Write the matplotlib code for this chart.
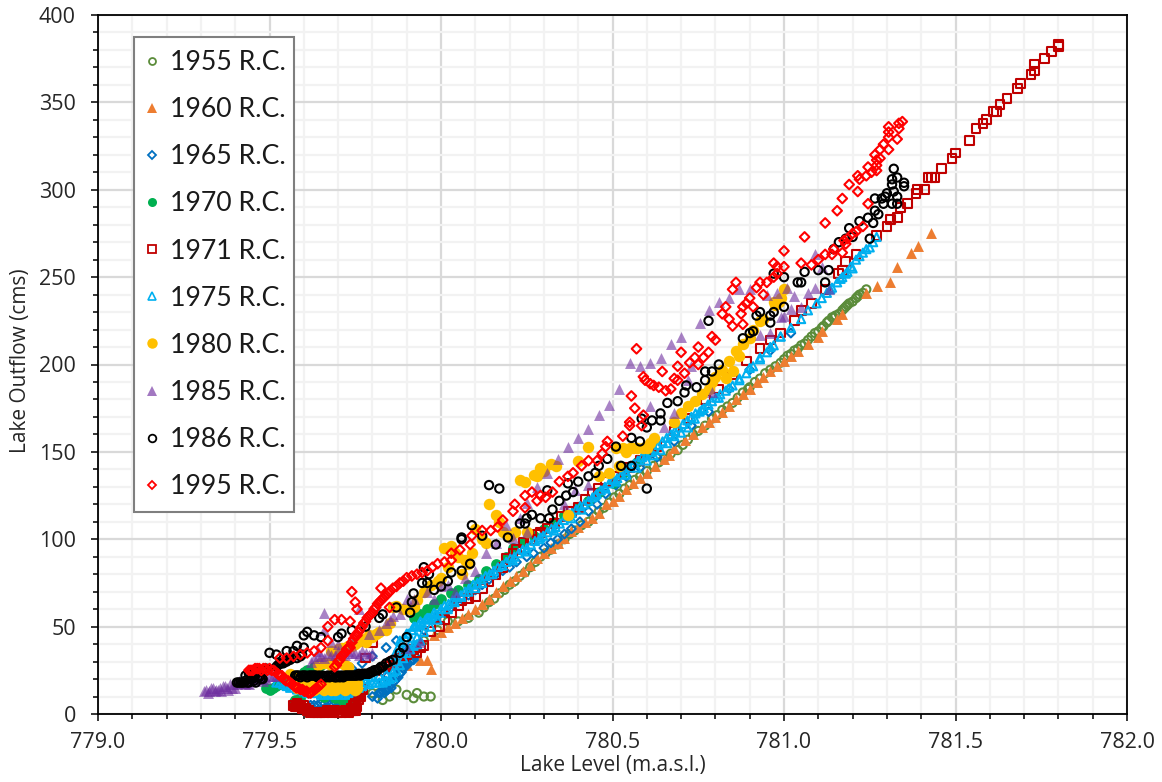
import matplotlib
matplotlib.use("Agg")
import matplotlib.pyplot as plt
from matplotlib.patches import Rectangle
from matplotlib.ticker import MultipleLocator

# values
x_1955 = [779.80, 779.82, 779.83, 779.85, 779.87, 779.90, 779.92, 779.93, 779.95, 779.97,
          779.86, 779.89, 779.92, 779.95, 779.99, 780.02, 780.05, 780.08, 780.11, 780.14, 780.17, 780.20, 780.23,
          780.26, 780.29, 780.32, 780.36, 780.39, 780.43, 780.46, 780.49, 780.52, 780.55, 780.58, 780.62, 780.65,
          780.69, 780.72, 780.75, 780.79, 780.82, 780.85, 780.88, 780.90, 780.93, 780.96, 780.99, 781.01, 781.03,
          781.05, 781.07, 781.09, 781.11, 781.125, 781.14, 781.15, 781.17, 781.18, 781.19, 781.21, 781.22, 781.24,
          780.125, 780.155, 780.185, 780.215, 780.245, 780.275, 780.305, 780.34, 780.375, 780.41, 780.445, 780.475,
          780.505, 780.535, 780.565, 780.60, 780.635, 780.67, 780.705, 780.735, 780.77, 780.805, 780.835, 780.865,
          780.895, 780.915, 780.945, 780.975, 781.00, 781.02, 781.04, 781.06, 781.08, 781.10, 781.115, 781.13,
          781.145, 781.16, 781.175, 781.185, 781.20, 781.215, 781.23]
y_1955 = [12, 12, 8, 10, 14, 11, 9, 12, 10, 10,
          25, 30, 36, 42, 48, 53, 53, 55, 58, 64, 69, 74, 79,
          84, 90, 94, 100, 105, 110, 116, 121, 126, 131, 136, 142, 146,
          151, 157, 162, 169, 174, 178, 184, 187, 192, 197, 201, 205, 208,
          211, 214, 218, 221, 224, 227, 228, 231, 233, 235, 238, 240, 243,
          61, 66, 71, 76, 81, 87, 92, 97, 103, 108, 113, 118,
          124, 129, 134, 139, 144, 149, 154, 160, 165, 171, 176, 181,
          186, 190, 195, 199, 203, 206, 209, 212, 216, 219, 222, 225,
          227, 229, 232, 234, 236, 239, 241]

x_1960 = [779.94, 779.96, 779.97, 779.90, 779.98, 780.02, 780.06, 780.10, 780.14, 780.18, 780.22, 780.26,
          780.30, 780.34, 780.38, 780.42, 780.44, 780.48, 780.52, 780.56, 780.60, 780.65, 780.68, 780.71,
          780.76, 780.80, 780.84, 780.88, 780.92, 780.96, 781.00, 781.04, 781.07, 781.10, 781.11, 781.155,
          781.17, 781.24, 781.27, 781.31, 781.33, 781.37, 781.39, 781.43,
          780.00, 780.04, 780.08, 780.12, 780.16, 780.20, 780.24, 780.28, 780.32, 780.36, 780.40, 780.46, 780.50,
          780.54, 780.58, 780.625, 780.665, 780.735, 780.78, 780.82, 780.86, 780.90, 780.94, 780.98, 781.02]
y_1960 = [31, 31, 26, 28, 45, 50, 55, 60, 66, 73, 79, 85,
          92, 98, 105, 110, 112, 120, 125, 132, 138, 146, 152, 157,
          164, 170, 176, 183, 190, 196, 202, 208, 212, 216, 219, 226,
          229, 241, 245, 247, 256, 264, 268, 275,
          47, 52, 57, 63, 70, 76, 82, 89, 95, 101, 107, 115, 122,
          129, 135, 142, 148, 160, 167, 173, 180, 186, 193, 199, 205]

x_1965 = [779.60, 779.63, 779.65, 779.68, 779.70, 779.73, 779.74, 779.77, 779.80, 779.84, 779.87, 779.80, 779.82,
          779.84, 779.85, 779.87, 779.89, 779.90, 779.92, 779.95, 779.98, 780.01, 780.04, 780.08, 780.12, 780.16,
          780.20, 780.25, 780.30, 780.34, 780.38, 780.43, 780.48, 780.54, 780.58, 780.63, 780.68, 780.73, 780.78,
          780.84, 780.90, 780.96, 781.02,
          779.815, 779.825, 779.83, 779.835, 779.845, 779.85, 779.855, 779.86, 779.865, 779.875, 779.88, 779.885,
          779.895, 779.905, 779.91, 779.915, 779.925, 779.83, 779.845, 779.86, 779.875,
          779.62, 779.64, 779.66, 779.67, 779.69, 779.71, 779.72,
          779.99, 780.03, 780.06, 780.10, 780.14, 780.18, 780.22, 780.27, 780.32, 780.36, 780.405, 780.455, 780.51]
y_1965 = [4, 5, 6, 6, 7, 5, 26, 29, 33, 38, 42, 10, 12,
          14, 18, 22, 26, 28, 31, 48, 54, 58, 64, 68, 74, 80,
          84, 90, 95, 100, 106, 116, 126, 136, 141, 147, 156, 165, 173,
          186, 197, 208, 218,
          9, 12, 13, 12, 14, 16, 15, 18, 19, 21, 23, 24,
          27, 29, 30, 31, 33, 18, 22, 24, 28,
          5, 5, 6, 7, 7, 6, 6,
          56, 61, 66, 71, 77, 82, 87, 92, 98, 103, 110, 120, 131]

x_1970 = [779.49, 779.52, 779.56, 779.57, 779.59, 779.63, 779.60, 779.66, 779.69, 779.71, 779.73,
          779.92, 779.96, 780.00, 780.05, 780.11, 780.16, 780.21, 780.27, 780.33, 780.40, 780.46, 780.53, 780.60,
          779.50, 779.51, 779.53, 779.54, 779.575, 779.58, 779.70, 779.72, 779.74, 779.58, 779.61, 779.64, 779.65,
          779.94, 779.98, 780.03, 780.08, 780.13, 780.19, 780.24, 780.30, 780.36, 780.43, 780.50, 780.57]
y_1970 = [15, 16, 20, 7, 9, 27, 24, 10, 9, 8, 9,
          55, 60, 66, 71, 77, 86, 95, 102, 110, 118, 127, 138, 150,
          14, 15, 17, 18, 8, 6, 10, 11, 10, 22, 25, 27, 28,
          57, 63, 69, 74, 82, 90, 98, 106, 114, 122, 132, 144]

x_1971 = [779.57, 779.58, 779.59, 779.60, 779.61, 779.63, 779.65, 779.68, 779.70, 779.73, 779.745, 779.755, 779.75,
          779.755, 779.76, 779.77, 779.78, 779.80, 779.84, 779.87, 779.90, 779.93, 779.95, 779.97, 779.995, 780.03,
          780.06, 780.10, 780.14, 780.19, 780.24, 780.29, 780.33, 780.40, 780.44, 780.51, 780.58, 780.63, 780.68,
          780.72, 780.77, 780.99, 781.03, 781.05, 781.08, 781.12, 781.16, 781.17, 781.18, 781.21, 781.27, 781.30,
          781.31, 781.33, 781.34, 781.36, 781.385, 781.39, 781.41, 781.42, 781.43, 781.44, 781.46, 781.49, 781.50,
          781.54, 781.56, 781.58, 781.59, 781.61, 781.62, 781.63, 781.65, 781.68, 781.69, 781.72, 781.73, 781.73,
          781.76, 781.78, 781.80, 781.80,
          779.575, 779.585, 779.595, 779.605, 779.615, 779.62, 779.64, 779.66, 779.67, 779.69, 779.71, 779.72, 779.74,
          779.75, 779.76, 779.765, 779.755, 779.745, 779.60, 779.59, 779.58, 779.74, 779.75,
          779.82, 779.85, 779.86, 779.88, 779.89, 779.91, 779.92, 779.94,
          780.01, 780.05, 780.08, 780.12, 780.16, 780.18, 780.21, 780.22, 780.26, 780.28, 780.31, 780.35, 780.37,
          780.38, 780.42, 780.46, 780.48, 780.53, 780.55, 780.60, 780.81, 780.85, 780.89, 780.93, 780.96]
y_1971 = [5, 4, 4, 3, 2, 1, 1, 1, 1, 1, 2, 4, 8,
          10, 12, 14, 32, 41, 27, 30, 34, 35, 39, 47, 50, 58,
          65, 67, 76, 89, 98, 104, 109, 118, 126, 136, 145, 153, 162,
          169, 180, 218, 225, 231, 235, 243, 252, 254, 259, 263, 274, 279,
          283, 284, 290, 292, 298, 300, 300, 307, 307, 307, 312, 318, 321,
          328, 335, 338, 340, 345, 345, 349, 352, 358, 361, 366, 368, 372,
          375, 379, 382, 383,
          4, 4, 3, 3, 2, 1, 1, 1, 2, 2, 1, 2, 2,
          6, 8, 10, 11, 5, 5, 5, 6, 3, 2,
          25, 28, 30, 32, 33, 36, 37, 38,
          54, 62, 66, 72, 80, 84, 92, 94, 100, 103, 106, 113, 116,
          116, 123, 129, 133, 139, 141, 149, 186, 194, 202, 209, 214]

x_1975 = [779.52, 779.55, 779.58, 779.62, 779.65, 779.68, 779.71, 779.74, 779.76, 779.78, 779.80, 779.82, 779.84,
          779.86, 779.87, 779.88, 779.89, 779.90, 779.91, 779.92, 779.93, 779.94, 779.95, 779.96, 779.97, 779.98,
          779.99, 780.00, 780.02, 780.04, 780.06, 780.08, 780.10, 780.12, 780.15, 780.18, 780.21, 780.25, 780.29,
          780.33, 780.38, 780.41, 780.45, 780.48, 780.51, 780.54, 780.57, 780.60, 780.62, 780.64, 780.66, 780.68,
          780.70, 780.72, 780.74, 780.76, 780.78, 780.81, 780.84, 780.87, 780.90, 780.93, 780.96, 780.99, 781.02,
          781.05, 781.07, 781.095, 781.125, 781.14, 781.155, 781.17, 781.18, 781.195, 781.21, 781.23, 781.25, 781.27]
y_1975 = [18, 16, 14, 12, 11, 11, 11, 13, 15, 18, 18, 18, 19,
          21, 30, 42, 36, 46, 40, 50, 44, 53, 47, 55, 50, 58,
          54, 60, 60, 64, 67, 70, 72, 75, 80, 85, 88, 93, 101,
          105, 112, 117, 125, 129, 133, 137, 141, 145, 148, 151, 155, 159,
          161, 164, 169, 174, 177, 181, 187, 192, 198, 204, 210, 216, 221,
          226, 231, 235, 241, 244, 247, 250, 252, 256, 260, 264, 267, 273]
x_1975_dense = [780.01, 780.022, 780.034, 780.046, 780.058, 780.07, 780.082, 780.094, 780.106, 780.118, 780.13,
                780.142, 780.154, 780.166, 780.178, 780.19, 780.202, 780.214, 780.226, 780.238, 780.25, 780.262,
                780.274, 780.286, 780.298, 780.31, 780.322, 780.334, 780.346, 780.358, 780.37, 780.382, 780.394,
                780.406, 780.418, 780.43, 780.442, 780.454, 780.466, 780.478, 780.49, 780.502, 780.514, 780.526,
                780.538, 780.55, 780.562, 780.574, 780.586, 780.598, 780.61, 780.622, 780.634, 780.646, 780.658,
                780.67, 780.682, 780.694, 780.706, 780.718, 780.73, 780.742, 780.754, 780.766, 780.778, 780.79,
                780.802, 780.814, 780.83, 780.85, 780.87, 780.89, 780.91, 780.93, 780.95, 780.97, 780.99,
                781.11, 781.135, 781.165, 781.185, 781.20, 781.22, 781.24, 781.26,
                779.53, 779.54, 779.56, 779.60, 779.61, 779.63, 779.64, 779.66, 779.67, 779.69, 779.70, 779.72,
                779.73, 779.75, 779.77, 779.79, 779.81, 779.83, 779.85, 779.78, 779.80, 779.82, 779.84, 779.86,
                779.865, 779.875, 779.885, 779.895, 779.905, 779.915, 779.925, 779.935, 779.945, 779.955, 779.965,
                779.975, 779.985, 779.995, 779.87, 779.88, 779.89, 779.90, 779.91, 779.92, 779.93, 779.94]
y_1975_dense = [62, 63, 65, 67, 68, 70, 72, 74, 75, 77, 79,
                80, 82, 84, 85, 87, 89, 90, 92, 94, 95, 97,
                99, 100, 102, 104, 106, 107, 109, 111, 113, 115, 117,
                119, 120, 122, 124, 126, 128, 130, 132, 134, 135, 137,
                139, 141, 143, 145, 147, 148, 150, 152, 154, 156, 158,
                160, 162, 164, 166, 168, 170, 172, 173, 175, 177, 179,
                181, 183, 185, 188, 191, 195, 199, 203, 207, 211, 216,
                238, 243, 249, 253, 255, 262, 266, 270,
                18, 17, 15, 13, 12, 13, 12, 11, 12, 11, 12, 11,
                12, 14, 16, 17, 18, 18, 20, 20, 21, 22, 23, 24,
                34, 38, 41, 44, 46, 48, 50, 51, 52, 54, 55,
                56, 57, 58, 25, 28, 32, 35, 37, 39, 40, 42]

x_1980 = [779.56, 779.58, 779.60, 779.63, 779.66, 779.68, 779.71, 779.73, 779.755, 779.62, 779.66, 779.70, 779.74,
          779.71, 779.74, 779.755, 779.80, 779.84, 779.86, 779.89, 779.92, 779.95, 780.00, 780.01, 780.03, 780.07,
          780.10, 780.14, 780.16, 780.18, 780.215, 780.23, 780.245, 780.27, 780.29, 780.32, 780.37, 780.40, 780.43,
          780.46, 780.49, 780.51, 780.52, 780.53, 780.56, 780.59, 780.62, 780.68, 780.74, 780.78, 780.80, 780.93,
          780.94, 780.97, 780.99, 781.00,
          779.565, 779.575, 779.59, 779.61, 779.625, 779.64, 779.65, 779.67, 779.69, 779.70, 779.72, 779.74, 779.75,
          779.64, 779.65, 779.67, 779.69, 779.72, 779.73, 779.76, 779.77, 779.79, 779.82, 779.85, 779.87, 779.91,
          779.93, 779.97, 779.99, 780.04, 780.05, 780.08, 780.12, 780.20, 780.25, 780.28, 780.30, 780.335, 780.54,
          780.55, 780.57, 780.60, 780.61, 780.975, 780.985, 780.70, 780.72, 780.83, 780.85, 780.87, 780.90,
          779.58, 779.60, 779.62, 779.64, 779.66, 779.68, 779.70, 779.72, 779.74, 779.755,
          779.60, 779.63, 779.66, 779.69, 779.72, 779.75, 780.76, 780.79, 780.82, 780.84, 780.86, 780.88, 780.91,
          779.68, 779.70, 779.73, 779.75, 779.77, 779.78, 779.81, 780.02, 780.06, 780.09, 780.13, 780.17]
y_1980 = [23, 22, 20, 20, 29, 28, 29, 27, 18, 17, 17, 17, 17,
          38, 39, 41, 44, 48, 61, 60, 61, 70, 78, 95, 96, 88,
          106, 120, 114, 104, 104, 134, 133, 137, 141, 143, 114, 145, 153,
          136, 138, 152, 142, 152, 152, 152, 158, 167, 179, 186, 193, 225,
          226, 236, 238, 243,
          20, 18, 17, 17, 17, 17, 17, 17, 17, 17, 17, 18, 18,
          28, 29, 29, 29, 28, 27, 42, 43, 45, 47, 52, 62, 60,
          65, 74, 76, 92, 90, 86, 100, 102, 104, 136, 139, 142, 150,
          152, 152, 152, 155, 234, 236, 172, 176, 192, 196, 205, 215,
          15, 15, 14, 15, 14, 14, 15, 14, 15, 15,
          16, 14, 16, 14, 16, 14, 183, 190, 197, 202, 208, 212, 220,
          36, 37, 39, 40, 42, 41, 46, 84, 80, 92, 98, 110]

x_1985 = [779.31, 779.33, 779.35, 779.37, 779.39, 779.41, 779.43, 779.45, 779.47, 779.49, 779.52, 779.32, 779.34, 779.38,
          779.63, 779.65, 779.68, 779.71, 779.74, 779.76, 779.78, 779.80, 779.66, 779.66, 779.68, 779.76, 779.79,
          779.85, 779.88, 779.90, 779.90, 779.94, 780.00, 780.07, 780.19, 780.21, 780.25, 780.25, 780.28, 780.31,
          780.34, 780.36, 780.37, 780.39, 780.40, 780.43, 780.43, 780.46, 780.49, 780.52, 780.55, 780.58, 780.61,
          780.61, 780.64, 780.65, 780.67, 780.68, 780.70, 780.72, 780.73, 780.755, 780.78, 780.79, 780.81, 780.84,
          780.87, 780.90, 780.93, 780.95, 780.96, 780.98, 780.99, 781.00, 781.01, 781.02, 781.03, 781.05, 781.07,
          781.09, 781.09, 781.11, 781.13,
          779.315, 779.325, 779.335, 779.345, 779.355, 779.365, 779.375, 779.385, 779.395, 779.405, 779.415, 779.425,
          779.435, 779.445, 779.455, 779.465, 779.475, 779.485, 779.50, 779.51, 779.36, 779.40, 779.44, 779.48,
          779.64, 779.66, 779.67, 779.69, 779.70, 779.72, 779.73, 779.75, 779.77, 779.79, 779.62, 779.64, 779.70,
          779.74, 779.82, 779.84, 779.86, 779.92, 779.96, 779.98, 780.02, 780.04, 780.10, 780.13, 780.16, 780.23]
y_1985 = [13, 15, 14, 16, 15, 19, 17, 20, 21, 20, 22, 12, 13, 14,
          32, 33, 34, 35, 35, 34, 35, 35, 58, 48, 41, 60, 46,
          54, 57, 66, 38, 41, 73, 78, 108, 101, 104, 121, 130, 138,
          146, 120, 153, 128, 158, 163, 131, 171, 177, 186, 201, 199, 201,
          176, 204, 164, 212, 172, 216, 191, 199, 224, 231, 184, 236, 238,
          243, 243, 217, 240, 218, 241, 227, 228, 244, 232, 239, 233, 241,
          244, 263, 256, 243,
          14, 13, 15, 14, 15, 16, 15, 17, 17, 17, 18, 18,
          18, 19, 20, 20, 20, 21, 22, 22, 13, 15, 17, 19,
          33, 32, 35, 34, 36, 34, 36, 35, 36, 34, 30, 36, 40,
          44, 48, 52, 56, 66, 70, 66, 74, 70, 82, 92, 98, 112]

x_1986 = [779.405, 779.42, 779.44, 779.45, 779.47, 779.50, 779.52, 779.55, 779.57, 779.58, 779.60, 779.60, 779.61, 779.63,
          779.65, 779.70, 779.71, 779.74, 779.78, 779.82, 779.83, 779.87, 779.90, 779.91, 779.915, 779.92, 779.945,
          779.95, 779.96, 779.965, 779.98, 780.00, 780.02, 780.03, 780.06, 780.085, 780.06,
          779.52, 779.54, 779.575, 779.60, 779.63, 779.66, 779.69, 779.72, 779.75, 779.77, 779.79, 779.82, 779.86,
          779.88, 779.89, 780.14, 780.17, 780.09, 780.06, 780.12, 780.16, 780.195, 780.23, 780.245, 780.25, 780.265,
          780.29, 780.315, 780.325, 780.345, 780.365, 780.385, 780.31, 780.37, 780.40, 780.43, 780.45, 780.46, 780.485,
          780.51, 780.525, 780.555, 780.60, 780.555, 780.58, 780.585, 780.60, 780.615, 780.64, 780.64, 780.66, 780.69,
          780.71, 780.715, 780.745, 780.77, 780.77, 780.79, 780.81, 780.78, 780.88, 780.90, 780.91, 780.92, 780.93,
          780.96, 780.97, 780.96, 781.00, 781.04, 781.05, 781.00, 780.97, 781.06, 781.10, 781.13, 781.12, 781.25,
          781.145, 781.16, 781.18, 781.19, 781.20, 781.22, 781.245, 781.26, 781.265, 781.275, 781.265, 781.285, 781.295,
          781.30, 781.32, 781.29, 781.315, 781.33, 781.33, 781.315, 781.315, 781.32, 781.33, 781.35, 781.35]
y_1986 = [18, 18, 23, 20, 21, 35, 34, 36, 36, 39, 45, 38, 47, 45,
          44, 44, 46, 48, 50, 55, 57, 61, 44, 58, 64, 69, 75,
          84, 75, 80, 71, 73, 76, 81, 82, 86, 100,
          27, 29, 22, 22, 22, 21, 21, 22, 22, 23, 23, 26, 31,
          35, 38, 131, 129, 108, 101, 102, 97, 101, 109, 109, 112, 114,
          112, 112, 117, 122, 125, 127, 128, 132, 133, 136, 138, 142, 146,
          153, 142, 142, 129, 158, 156, 169, 164, 168, 172, 168, 178, 179,
          184, 188, 187, 191, 196, 196, 200, 225, 215, 218, 219, 228, 230,
          228, 230, 224, 233, 247, 247, 250, 252, 253, 254, 254, 247, 272,
          266, 270, 272, 278, 273, 282, 284, 281, 288, 286, 295, 295, 296,
          298, 299, 292, 292, 292, 296, 303, 306, 312, 307, 302, 304]
x_1986_dense = [779.41, 779.415, 779.425, 779.43, 779.435, 779.44, 779.445, 779.455, 779.46, 779.465, 779.475,
                779.48, 779.43, 779.44, 779.45, 779.455, 779.46, 779.47, 779.48, 779.49,
                779.525, 779.53, 779.535, 779.545, 779.55, 779.555, 779.56, 779.565, 779.58, 779.59, 779.595,
                779.58, 779.585, 779.59, 779.595, 779.605, 779.61, 779.615, 779.62, 779.625, 779.635, 779.64,
                779.645, 779.65, 779.655, 779.665, 779.67, 779.675, 779.68, 779.685, 779.695, 779.70, 779.705,
                779.71, 779.715, 779.725, 779.73, 779.735, 779.74, 779.745, 779.755, 779.76, 779.765, 779.775,
                779.78, 779.785, 779.795, 779.80, 779.805, 779.81, 779.815, 779.825, 779.83, 779.84, 779.85]
y_1986_dense = [18, 18, 18, 19, 18, 18, 20, 19, 18, 21, 20,
                20, 22, 24, 22, 23, 24, 25, 25, 26,
                28, 29, 29, 30, 30, 31, 31, 32, 32, 33, 34,
                22, 22, 21, 22, 22, 21, 22, 22, 22, 22, 21,
                22, 21, 22, 21, 22, 21, 22, 22, 21, 22, 21,
                22, 21, 22, 22, 22, 22, 22, 22, 23, 22, 23,
                23, 23, 24, 24, 25, 25, 25, 27, 27, 29, 30]

x_1995 = [779.53, 779.55, 779.57, 779.59, 779.61, 779.63, 779.65, 779.67, 779.67, 779.69, 779.71, 779.735, 779.755,
          779.75, 779.74, 779.825, 779.85, 780.09, 780.12, 780.145, 780.165, 780.18, 780.21, 780.215, 780.245,
          780.245, 780.265, 780.28, 780.29, 780.305, 780.325, 780.345, 780.37, 780.385, 780.41, 780.43, 780.455,
          780.47, 780.48, 780.485, 780.53, 780.55, 780.55, 780.585, 780.59, 780.565, 780.555, 780.57, 780.59,
          780.595, 780.61, 780.62, 780.635, 780.655, 780.67, 780.68, 780.69, 780.645, 780.69, 780.71, 780.725,
          780.74, 780.75, 780.765, 780.78, 780.70, 780.75, 780.79, 780.80, 780.85, 780.86, 780.82, 780.83, 780.84,
          780.85, 780.875, 780.88, 780.89, 780.90, 780.91, 780.88, 780.92, 780.93, 780.94, 780.95, 780.97, 780.98,
          780.97, 780.98, 781.00, 781.00, 781.05, 781.06, 781.08, 781.10, 781.12, 781.14, 781.145, 781.17, 781.18,
          781.175, 781.185, 781.20, 781.21, 781.23, 781.12, 781.155, 781.17, 781.245, 781.215, 781.19, 781.215,
          781.22, 781.24, 781.245, 781.255, 781.27, 781.27, 781.265, 781.27, 781.28, 781.28, 781.29, 781.305,
          781.305, 781.33, 781.305, 781.305, 781.335, 781.335, 781.345]
y_1995 = [32, 32, 33, 34, 35, 36, 38, 42, 50, 54, 54, 53, 60,
          64, 70, 72, 61, 102, 105, 105, 107, 111, 116, 120, 118,
          125, 127, 122, 125, 124, 127, 133, 136, 138, 142, 145, 145,
          149, 153, 156, 159, 167, 165, 165, 171, 175, 182, 209, 193,
          191, 189, 188, 187, 185, 186, 192, 191, 196, 199, 195, 201,
          204, 200, 204, 207, 207, 210, 216, 214, 243, 247, 229, 233, 226,
          222, 229, 233, 235, 238, 233, 223, 244, 247, 240, 247, 250, 252,
          258, 256, 256, 265, 258, 273, 257, 260, 263, 263, 266, 264, 269,
          271, 272, 275, 276, 279, 281, 288, 295, 292, 299, 303, 308,
          306, 308, 313, 310, 311, 314, 320, 317, 318, 323, 326, 323,
          330, 329, 333, 336, 335, 338, 339]
# the solid red band at the low end
x_1995_band = [779.44, 779.446, 779.452, 779.458, 779.464, 779.47, 779.476, 779.482, 779.488, 779.494, 779.50,
               779.506, 779.512, 779.518, 779.524, 779.53, 779.536, 779.542, 779.548, 779.554, 779.56, 779.566,
               779.572, 779.578, 779.584, 779.59, 779.596, 779.602, 779.608, 779.614, 779.62, 779.626, 779.632,
               779.638, 779.644, 779.65,
               779.69, 779.695, 779.70, 779.705, 779.71, 779.715, 779.72, 779.725, 779.73, 779.735, 779.74, 779.745,
               779.75, 779.755, 779.76, 779.765, 779.77, 779.775, 779.78, 779.785, 779.79, 779.795, 779.80, 779.805,
               779.81, 779.815, 779.82, 779.825, 779.83, 779.835, 779.84, 779.845, 779.85, 779.86, 779.87, 779.88,
               779.89, 779.90, 779.915, 779.93, 779.945, 779.96, 779.975, 779.99, 780.01, 780.03, 780.03, 780.055,
               780.085]
y_1995_band = [25, 25, 25, 26, 26, 26, 25, 26, 26, 25, 26,
               25, 25, 24, 23, 22, 22, 20, 19, 19, 18, 17,
               16, 15, 15, 14, 14, 13, 13, 12, 12, 13, 14,
               15, 16, 17,
               27, 28, 30, 31, 33, 34, 35, 37, 38, 38, 41, 43,
               45, 45, 47, 49, 50, 52, 53, 55, 56, 57, 58, 60,
               61, 63, 64, 65, 66, 67, 68, 69, 70, 72, 73, 75,
               76, 78, 79, 80, 81, 82, 84, 86, 87, 88, 92, 94,
               97]

labels = ["1955 R.C.", "1960 R.C.", "1965 R.C.", "1970 R.C.", "1971 R.C.",
          "1975 R.C.", "1980 R.C.", "1985 R.C.", "1986 R.C.", "1995 R.C."]

fig = plt.figure(figsize=(11.62, 7.82), dpi=100)
ax = fig.add_axes([98 / 1162, 1 - 714 / 782, (1127 - 98) / 1162, (714 - 15) / 782])

hollow = dict(facecolors="none", linewidths=1.5)
ax.scatter(x_1955, y_1955, marker="o", s=34, edgecolors="#5B8C3A", zorder=3, clip_on=False, **hollow)
ax.scatter(x_1960, y_1960, marker="^", s=62, color="#ED7D31", linewidths=0, zorder=3.1, clip_on=False)
ax.scatter(x_1965, y_1965, marker="D", s=20, edgecolors="#0070C0", zorder=3.2, clip_on=False, **hollow)
ax.scatter(x_1970, y_1970, marker="o", s=60, color="#00B050", linewidths=0, zorder=3.3, clip_on=False)
ax.scatter(x_1971, y_1971, marker="s", s=40, edgecolors="#C00000", zorder=3.4, clip_on=False, **hollow)
ax.scatter(x_1975 + x_1975_dense, y_1975 + y_1975_dense, marker="^", s=34, edgecolors="#00B0F0", zorder=3.5,
           clip_on=False, **hollow)
ax.scatter(x_1980, y_1980, marker="o", s=68, color="#FFC000", linewidths=0, zorder=3.6, clip_on=False)
ax.scatter(x_1985, y_1985, marker="^", s=62, color="#7030A0", alpha=0.6, linewidths=0, zorder=3.7, clip_on=False)
ax.scatter(x_1986 + x_1986_dense, y_1986 + y_1986_dense, marker="o", s=36, edgecolors="black", zorder=3.8,
           clip_on=False, **hollow)
ax.scatter(x_1995 + x_1995_band, y_1995 + y_1995_band, marker="D", s=24, edgecolors="#FF0000", zorder=3.9,
           clip_on=False, **hollow)

ax.set_xlim(779.0, 782.0)
ax.set_ylim(0, 400)
ax.xaxis.set_major_locator(MultipleLocator(0.5))
ax.xaxis.set_minor_locator(MultipleLocator(0.1))
ax.yaxis.set_major_locator(MultipleLocator(50))
ax.yaxis.set_minor_locator(MultipleLocator(10))
ax.xaxis.set_major_formatter(lambda v, p: f"{v:.1f}")
ax.set_axisbelow(True)
ax.grid(which="minor", color="#F2F2F2", lw=1.6)
ax.grid(which="major", color="#D9D9D9", lw=1.6)
ax.tick_params(which="both", direction="out", color="black", width=1.1)
ax.tick_params(which="major", length=5, labelsize=15.5, labelcolor="#262626")
ax.tick_params(which="minor", length=3.5)
ax.tick_params(axis="x", which="major", pad=8)
ax.tick_params(axis="y", which="major", pad=11)
for lab in ax.get_xticklabels() + ax.get_yticklabels():
    lab.set_family("Open Sans")
for s in ["left", "bottom", "top", "right"]:
    ax.spines[s].set_linewidth(1.3)

ax.set_xlabel("Lake Level (m.a.s.l.)", fontsize=15, family="Open Sans", color="#262626")
ax.set_ylabel("Lake Outflow (cms)", fontsize=15, family="Open Sans", color="#262626")
ax.xaxis.set_label_coords(0.5, -51 / 699, transform=ax.transAxes)
ax.yaxis.set_label_coords(-77 / 1029, 0.505, transform=ax.transAxes)
ax.xaxis.label.set_verticalalignment("center")
ax.yaxis.label.set_verticalalignment("center")

# legend frame is separate, so the rows can sit where they do in the picture
frame = Rectangle((36 / 1029, (714 - 512) / 699), 160 / 1029, 475 / 699, transform=ax.transAxes, facecolor="white",
                  edgecolor="#7F7F7F", lw=1.5, zorder=4.8)
ax.add_patch(frame)
handles = [
    plt.Line2D([], [], ls="", marker="o", ms=5, mfc="none", mec="#5B8C3A", mew=1.3),
    plt.Line2D([], [], ls="", marker="^", ms=7, color="#ED7D31", mew=0),
    plt.Line2D([], [], ls="", marker="D", ms=4, mfc="none", mec="#0070C0", mew=1.3),
    plt.Line2D([], [], ls="", marker="o", ms=6.5, color="#00B050", mew=0),
    plt.Line2D([], [], ls="", marker="s", ms=5.5, mfc="none", mec="#C00000", mew=1.3),
    plt.Line2D([], [], ls="", marker="^", ms=5.5, mfc="none", mec="#00B0F0", mew=1.2),
    plt.Line2D([], [], ls="", marker="o", ms=7.5, color="#FFC000", mew=0),
    plt.Line2D([], [], ls="", marker="^", ms=7, color="#7030A0", alpha=0.65, mew=0),
    plt.Line2D([], [], ls="", marker="o", ms=5.5, mfc="none", mec="black", mew=1.3),
    plt.Line2D([], [], ls="", marker="D", ms=4.5, mfc="none", mec="#FF0000", mew=1.3),
]
leg = ax.legend(handles, labels, loc="upper left", bbox_to_anchor=(41 / 1029, (714 - 50) / 699), borderaxespad=0,
                prop={"family": "Lato", "size": 19.2}, labelspacing=0.83, handletextpad=0.15, handlelength=1.0,
                borderpad=0, frameon=False)
leg.set_zorder(5)
for t in leg.get_texts():
    t.set_color("#1A1A1A")

fig.savefig("out.png", dpi=100)
